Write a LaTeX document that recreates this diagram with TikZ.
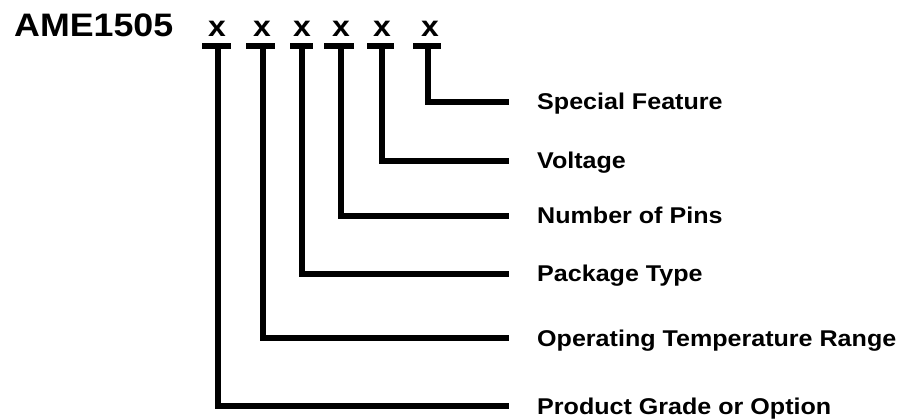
\documentclass[tikz,border=0pt]{standalone}
\usepackage{fontspec}
\setmainfont{Liberation Sans}[FakeStretch=1.1]
\usetikzlibrary{positioning}
\tikzset{
  pname/.style={font=\fontsize{32.5}{32.5}\selectfont\bfseries, inner sep=0pt, anchor=base west},
  opt/.style={font=\fontsize{29}{29}\selectfont\bfseries, inner sep=0pt, anchor=base},
  lab/.style={font=\fontsize{22.8}{22.8}\selectfont\bfseries, inner sep=0pt, anchor=west, text height=16pt, text depth=0pt},
  bar/.style={line width=5.5pt},
  lead/.style={line width=5.5pt, line join=miter},
}
\begin{document}
\begin{tikzpicture}[x=1pt,y=-1pt]
\useasboundingbox (0,0) rectangle (904,419);

\node[pname] (pn) at (14,37) {AME1505};

% option letters and their bars
\foreach \n/\px/\a/\b in {1/217/202/231,2/262/246/275,3/302/290/313,4/341/324/354,5/382/367/394,6/430/413/441}{
  \node[opt] (x\n) at (\px,37) {x};
  \draw[bar] (\a,46) -- (\b,46);
}

% field names
\node[lab] (l1) at (537,406) {Product Grade or Option};
\node[lab] (l2) at (537,338) {Operating Temperature Range};
\node[lab] (l3) at (537,274) {Package Type};
\node[lab] (l4) at (537,216) {Number of Pins};
\node[lab] (l5) at (537,161) {Voltage};
\node[lab] (l6) at (537,102) {Special Feature};

% leaders
\foreach \n/\vx in {1/218,2/263,3/302,4/341,5/382,6/428}{
  \coordinate (v\n) at (\vx,46);
  \draw[lead] (v\n) |- ([xshift=-28pt]l\n.west);
}
\end{tikzpicture}
\end{document}
